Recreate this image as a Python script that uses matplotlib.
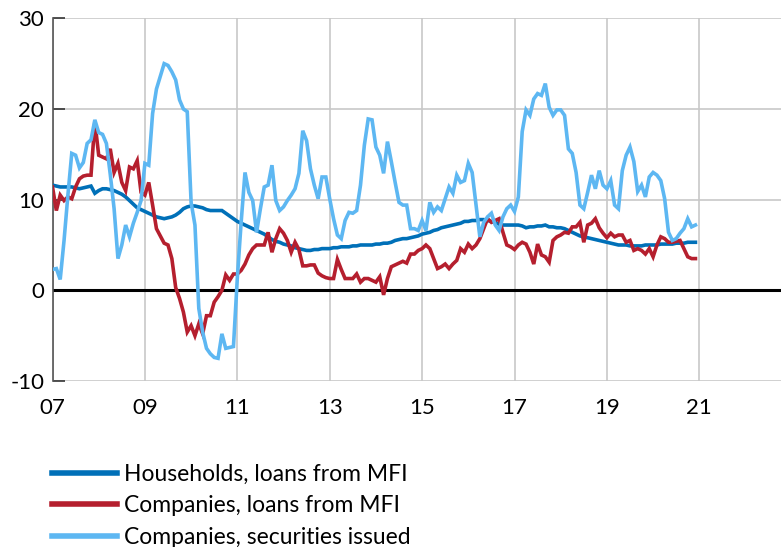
import matplotlib
matplotlib.use("Agg")
import matplotlib.pyplot as plt
import numpy as np

plt.rcParams['font.family'] = ['Lato', 'DejaVu Sans']
plt.rcParams['axes.unicode_minus'] = False

# Monthly data, Jan 2007 - Dec 2020 (annual growth, per cent)
start_year = 7  # 2007, axis labelled with two digits

households = [
    11.6, 11.5, 11.4, 11.4, 11.4, 11.4, 11.3, 11.2, 11.3, 11.4, 11.5, 10.7,
    11.0, 11.2, 11.2, 11.1, 11.0, 10.8, 10.6, 10.3, 9.9, 9.5, 9.1, 8.9,
    8.7, 8.5, 8.3, 8.1, 8.0, 7.9, 8.0, 8.1, 8.3, 8.6, 9.0, 9.2,
    9.3, 9.3, 9.2, 9.1, 8.9, 8.8, 8.8, 8.8, 8.8, 8.5, 8.2, 7.9,
    7.6, 7.4, 7.2, 7.0, 6.8, 6.6, 6.4, 6.2, 5.9, 5.6, 5.4, 5.3,
    5.1, 5.0, 4.9, 4.7, 4.6, 4.5, 4.4, 4.4, 4.5, 4.5, 4.6, 4.6,
    4.6, 4.7, 4.7, 4.8, 4.8, 4.8, 4.9, 4.9, 5.0, 5.0, 5.0, 5.0,
    5.1, 5.1, 5.2, 5.2, 5.3, 5.5, 5.6, 5.7, 5.7, 5.8, 5.9, 6.0,
    6.2, 6.3, 6.4, 6.6, 6.7, 6.9, 7.0, 7.1, 7.2, 7.3, 7.4, 7.6,
    7.6, 7.7, 7.7, 7.8, 7.8, 7.7, 7.6, 7.5, 7.3, 7.2, 7.2, 7.2,
    7.2, 7.2, 7.1, 6.9, 7.0, 7.0, 7.1, 7.1, 7.2, 7.0, 7.0, 6.9,
    6.9, 6.8, 6.6, 6.4, 6.2, 6.0, 5.9, 5.8, 5.7, 5.6, 5.5, 5.4,
    5.3, 5.2, 5.1, 5.0, 5.0, 5.0, 4.9, 4.9, 4.9, 4.9, 5.0, 5.0,
    5.0, 5.0, 5.1, 5.1, 5.1, 5.1, 5.2, 5.2, 5.2, 5.3, 5.3, 5.3,
]

companies_loans = [
    11.4, 8.8, 10.5, 9.9, 10.3, 10.1, 11.4, 12.3, 12.6, 12.7, 12.7, 18.6,
    14.9, 14.7, 14.5, 15.6, 13.0, 14.0, 11.9, 11.0, 13.6, 13.4, 14.3, 10.8,
    10.5, 11.9, 9.4, 6.8, 6.0, 5.2, 5.0, 3.5, 0.3, -0.9, -2.4, -4.6,
    -3.9, -5.0, -3.7, -4.8, -2.8, -2.8, -1.3, -0.7, 0.0, 1.7, 1.1, 1.8,
    1.8, 2.2, 2.9, 3.9, 4.6, 5.0, 5.0, 5.0, 6.4, 4.2, 5.7, 6.8,
    6.3, 5.5, 4.2, 5.3, 4.5, 2.7, 2.7, 2.8, 2.8, 1.9, 1.6, 1.4,
    1.3, 1.3, 3.4, 2.3, 1.3, 1.3, 1.3, 1.8, 0.9, 1.3, 1.3, 1.1,
    0.9, 1.5, -0.5, 1.3, 2.6, 2.8, 3.0, 3.2, 3.0, 4.0, 4.0, 4.4,
    4.6, 5.0, 4.6, 3.5, 2.4, 2.6, 2.9, 2.4, 2.9, 3.3, 4.6, 4.2,
    5.1, 4.6, 5.0, 5.7, 6.8, 7.9, 7.5, 7.7, 7.9, 6.4, 5.0, 4.8,
    4.5, 5.0, 5.3, 5.1, 4.2, 2.9, 5.1, 3.9, 3.7, 3.1, 5.5, 5.9,
    6.1, 6.4, 6.3, 7.0, 7.0, 7.5, 5.3, 7.2, 7.4, 7.9, 6.9, 6.3,
    5.8, 6.3, 5.9, 6.1, 6.1, 5.3, 5.5, 4.4, 4.6, 4.4, 4.0, 4.6,
    3.7, 5.0, 5.9, 5.7, 5.3, 5.3, 5.4, 5.5, 4.6, 3.7, 3.5, 3.5,
]

companies_securities = [
    2.3, 2.4, 1.2, 5.5, 10.5, 15.1, 14.9, 13.5, 14.1, 16.2, 16.6, 18.8,
    17.4, 17.2, 16.2, 12.8, 9.0, 3.5, 5.0, 7.2, 5.9, 7.4, 8.6, 9.9,
    14.0, 13.8, 19.5, 22.2, 23.6, 25.0, 24.8, 24.1, 23.2, 21.0, 20.0, 19.7,
    9.7, 7.2, -2.0, -4.6, -6.4, -7.0, -7.4, -7.5, -4.8, -6.4, -6.3, -6.2,
    1.3, 7.5, 13.0, 10.8, 9.9, 6.4, 9.0, 11.4, 11.6, 13.8, 9.9, 8.8,
    9.2, 9.9, 10.5, 11.2, 12.9, 17.6, 16.5, 13.4, 11.6, 10.1, 12.5, 12.5,
    10.1, 7.9, 6.1, 5.7, 7.7, 8.6, 8.5, 8.8, 11.6, 16.0, 18.9, 18.8,
    15.8, 14.9, 12.9, 16.4, 14.2, 11.9, 9.7, 9.4, 9.4, 6.8, 6.8, 6.6,
    7.7, 6.6, 9.7, 8.6, 9.2, 8.8, 10.1, 11.4, 10.7, 12.7, 11.9, 12.1,
    14.0, 13.0, 9.4, 5.9, 7.5, 8.1, 8.5, 7.2, 6.6, 8.1, 9.0, 9.4,
    8.7, 10.3, 17.5, 19.9, 19.3, 21.1, 21.7, 21.5, 22.8, 20.2, 19.3, 19.9,
    19.9, 19.3, 15.6, 15.1, 13.0, 9.4, 9.0, 10.8, 12.7, 11.2, 13.2, 11.6,
    11.2, 12.1, 9.4, 9.0, 13.2, 14.9, 15.8, 14.2, 10.9, 11.6, 10.3, 12.5,
    13.0, 12.7, 12.1, 10.1, 6.4, 5.5, 5.7, 6.3, 6.8, 7.9, 7.0, 7.2,
]

labels = ["Households, loans from MFI",
          "Companies, loans from MFI",
          "Companies, securities issued"]
colors = ["#0070B8", "#B51F2E", "#5DB7F2"]

x_ticks = [7, 9, 11, 13, 15, 17, 19, 21]
x_ticklabels = ["07", "09", "11", "13", "15", "17", "19", "21"]
y_ticks = [-10, 0, 10, 20, 30]

t = start_year + np.arange(len(households)) / 12.0

fig = plt.figure(figsize=(7.81, 5.47), dpi=100)
ax = fig.add_axes([52.5 / 781, 1 - 381 / 547, (781 - 52.5) / 781, (381 - 18.3) / 547])

lines = []
for series, c, lab in zip([households, companies_loans, companies_securities], colors, labels):
    ln, = ax.plot(t, series, color=c, lw=2.6, label=lab, zorder=3, solid_joinstyle='miter')
    lines.append(ln)

ax.axhline(0, color='black', lw=2.2, zorder=2.5)

ax.set_xlim(7, 7 + (781 - 52.5) / 46.2)
ax.set_ylim(-10, 30)
ax.set_xticks(x_ticks)
ax.set_xticklabels(x_ticklabels)
ax.set_yticks(y_ticks)

ax.grid(True, color='#C8C8C8', lw=1.2, zorder=0)
ax.set_axisbelow(True)
for s in ['top', 'right', 'bottom']:
    ax.spines[s].set_visible(False)
ax.spines['left'].set_color('#555555')
ax.spines['left'].set_linewidth(1.2)

ax.tick_params(axis='x', length=0, pad=12, labelsize=16)
ax.tick_params(axis='y', direction='in', length=8.5, width=1.2, color='#333333', pad=6, labelsize=16)

leg = fig.legend(handles=lines, loc='upper left', bbox_to_anchor=(52 / 781, 1 - 464 / 547),
                 frameon=False, fontsize=16.5, handlelength=2.85, handletextpad=0.28,
                 labelspacing=0.45, borderpad=0, borderaxespad=0)
for lh in leg.get_lines():
    lh.set_linewidth(4)

fig.savefig("out.png", dpi=100)
